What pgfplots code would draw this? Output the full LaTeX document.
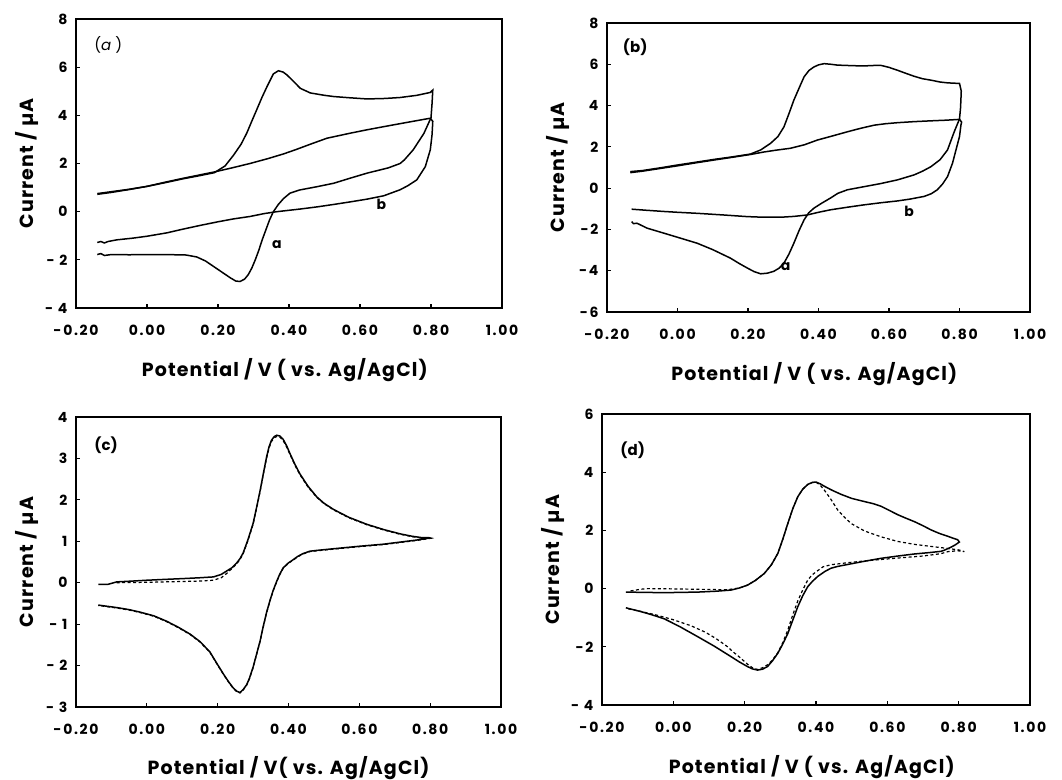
\documentclass[border=0pt]{standalone}
\usepackage{fontspec}
\setmainfont{Poppins}
\newfontfamily\widefont{Poppins}[LetterSpace=12]
\newfontfamily\labfont{Poppins}[LetterSpace=6]
\usepackage{pgfplots}
\pgfplotsset{compat=1.18}
\pgfplotsset{
  cv/.style={
    scale only axis, width=426pt, height=289pt,
    xmin=-0.2, xmax=1.0,
    xtick={-0.2,0,0.2,0.4,0.6,0.8,1.0},
    xticklabels={-0.20,0.00,0.20,0.40,0.60,0.80,1.00},
    tick align=inside, tick pos=left, major tick length=4pt,
    axis line style={line width=1.7pt}, tick style={line width=1.2pt, black},
    /pgf/number format/assume math mode=true,
    tick label style={font=\widefont\bfseries\fontsize{14}{14}\selectfont},
    xticklabel style={yshift=-14pt},
    yticklabel style={xshift=-5pt},
    label style={font=\labfont\bfseries\fontsize{19}{19}\selectfont},
    xlabel={Potential / V ( vs. Ag/AgCl)},
    ylabel={Current / µA},
    xlabel style={at={(axis description cs:0.49,-0.215)}, anchor=center},
    ylabel style={at={(axis description cs:-0.115,0.5)}, anchor=center},
    cycle list={{black}},
    every axis plot/.append style={black, line width=1.5pt, no markers},
  },
  sol/.style={solid},
  dsh/.style={dash pattern=on 3pt off 2.5pt, line width=1.2pt},
}
\begin{document}
\begin{tikzpicture}
\useasboundingbox (0,0) rectangle (1062pt,779pt);
% ---------------- (a)
\begin{axis}[cv, at={(76pt,471pt)}, anchor=south west,
  ymin=-4, ymax=8, ytick={-4,-2,0,2,4,6,8}, yticklabels={- 4,- 2,0,2,4,6,8}]
\addplot coordinates {(-0.14,0.75) (-0.10,0.83) (-0.05,0.93) (0.00,1.05) (0.05,1.2) (0.10,1.36) (0.15,1.5) (0.19,1.62) (0.22,1.9) (0.244,2.35) (0.265,2.8) (0.281,3.26) (0.295,3.75) (0.309,4.23) (0.324,4.75) (0.338,5.19) (0.356,5.72) (0.37,5.85) (0.383,5.8) (0.394,5.68) (0.41,5.45) (0.432,5.12) (0.46,4.93) (0.50,4.83) (0.526,4.78) (0.57,4.73) (0.62,4.68) (0.67,4.7) (0.713,4.74) (0.76,4.83) (0.798,4.95) (0.805,5.05)
(0.803,4.5) (0.80,3.9) (0.78,3.25) (0.75,2.57) (0.725,2.15) (0.713,2.0) (0.68,1.82) (0.62,1.6) (0.57,1.38) (0.526,1.18) (0.48,1.04) (0.43,0.9) (0.403,0.77) (0.385,0.55) (0.37,0.3) (0.356,0.0) (0.345,-0.35) (0.335,-0.75) (0.325,-1.15) (0.315,-1.6) (0.305,-2.0) (0.295,-2.35) (0.285,-2.62) (0.275,-2.8) (0.262,-2.9) (0.25,-2.88) (0.235,-2.75) (0.215,-2.55) (0.19,-2.3) (0.165,-2.05) (0.14,-1.88) (0.11,-1.8) (0.05,-1.78) (0.0,-1.78) (-0.05,-1.79) (-0.10,-1.78) (-0.12,-1.82) (-0.13,-1.74) (-0.14,-1.78)};
\addplot coordinates {(-0.14,0.72) (-0.10,0.8) (-0.05,0.92) (0,1.05) (0.05,1.22) (0.10,1.38) (0.15,1.53) (0.19,1.65) (0.24,1.82) (0.29,2.0) (0.34,2.2) (0.385,2.4) (0.42,2.58) (0.46,2.8) (0.507,3.05) (0.573,3.26) (0.62,3.4) (0.667,3.53) (0.73,3.7) (0.798,3.88)
(0.805,3.75) (0.803,3.2) (0.798,2.57) (0.784,1.87) (0.76,1.32) (0.735,1.08) (0.713,0.91) (0.667,0.66) (0.62,0.52) (0.57,0.4) (0.526,0.3) (0.48,0.2) (0.432,0.11) (0.366,0.0) (0.33,-0.08) (0.29,-0.2) (0.244,-0.3) (0.2,-0.42) (0.15,-0.57) (0.10,-0.73) (0.056,-0.88) (0.0,-1.02) (-0.04,-1.1) (-0.085,-1.17) (-0.11,-1.24) (-0.12,-1.3) (-0.13,-1.24) (-0.14,-1.28)};
\node[font=\fontsize{15}{15}\selectfont] at (axis cs:-0.109,6.92) {(\textit{a} )};
\node[font=\bfseries\fontsize{14}{14}\selectfont] at (axis cs:0.366,-1.37) {a};
\node[font=\bfseries\fontsize{14}{14}\selectfont] at (axis cs:0.66,0.3) {b};
\end{axis}
% ---------------- (b)
\begin{axis}[cv, at={(607pt,467pt)}, anchor=south west, width=423pt,
  ymin=-6, ymax=8, ytick={-6,-4,-2,0,2,4,6,8}, yticklabels={-6,-4,-2,0,2,4,6,8}]
\addplot coordinates {(-0.134,0.8) (-0.1,0.85) (-0.05,0.98) (0,1.12) (0.05,1.25) (0.103,1.39) (0.15,1.5) (0.207,1.65) (0.236,1.85) (0.264,2.17) (0.285,2.5) (0.302,2.97) (0.316,3.6) (0.33,4.26) (0.345,4.85) (0.359,5.39) (0.373,5.7) (0.387,5.87) (0.40,5.97) (0.416,6.03) (0.435,6.0) (0.453,5.96) (0.5,5.93) (0.529,5.92) (0.555,5.94) (0.576,5.95) (0.6,5.85) (0.624,5.71) (0.648,5.56) (0.671,5.42) (0.695,5.3) (0.719,5.23) (0.745,5.14) (0.766,5.1) (0.8,5.07)
(0.805,4.7) (0.803,3.9) (0.8,3.35) (0.785,2.73) (0.766,1.85) (0.745,1.38) (0.719,1.04) (0.695,0.82) (0.671,0.64) (0.624,0.4) (0.576,0.22) (0.529,0.07) (0.482,-0.08) (0.455,-0.25) (0.434,-0.48) (0.41,-0.72) (0.387,-0.97) (0.372,-1.2) (0.359,-1.54) (0.345,-2.05) (0.33,-2.67) (0.316,-3.2) (0.302,-3.63) (0.288,-3.88) (0.273,-4.03) (0.255,-4.12) (0.236,-4.15) (0.218,-4.05) (0.198,-3.87) (0.175,-3.65) (0.15,-3.39) (0.1,-2.98) (0.056,-2.67) (0.0,-2.38) (-0.039,-2.18) (-0.086,-1.94) (-0.115,-1.7) (-0.125,-1.72) (-0.13,-1.62)};
\addplot coordinates {(-0.134,0.75) (-0.1,0.82) (-0.05,0.95) (0,1.08) (0.05,1.22) (0.103,1.36) (0.15,1.48) (0.207,1.63) (0.245,1.75) (0.28,1.84) (0.32,1.93) (0.36,2.1) (0.397,2.33) (0.44,2.53) (0.482,2.73) (0.52,2.9) (0.558,3.05) (0.59,3.12) (0.624,3.17) (0.67,3.22) (0.719,3.26) (0.76,3.29) (0.8,3.33)
(0.806,3.2) (0.804,3.05) (0.8,2.5) (0.79,1.85) (0.78,1.2) (0.766,0.56) (0.752,0.2) (0.737,-0.08) (0.72,-0.27) (0.7,-0.4) (0.66,-0.53) (0.624,-0.62) (0.576,-0.71) (0.529,-0.81) (0.48,-0.93) (0.434,-1.05) (0.4,-1.17) (0.368,-1.3) (0.33,-1.37) (0.292,-1.41) (0.245,-1.41) (0.198,-1.38) (0.13,-1.3) (0.056,-1.22) (0.0,-1.17) (-0.039,-1.13) (-0.09,-1.07) (-0.13,-1.02)};
\node[font=\bfseries\fontsize{15}{15}\selectfont] at (axis cs:-0.12,6.84) {(b)};
\node[font=\bfseries\fontsize{14}{14}\selectfont] at (axis cs:0.307,-3.79) {a};
\node[font=\bfseries\fontsize{14}{14}\selectfont] at (axis cs:0.657,-1.13) {b};
\end{axis}
% ---------------- (c)
\begin{axis}[cv, at={(76pt,72pt)}, anchor=south west, width=425pt, height=290pt,
  ymin=-3, ymax=4, ytick={-3,-2,-1,0,1,2,3,4}, yticklabels={- 3,- 2,- 1,0,1,2,3,4},
  xlabel={Potential / V( vs. Ag/AgCl)}, xlabel style={at={(axis description cs:0.5,-0.21)}}]
\addplot[dsh] coordinates {(-0.085,0.0) (0,0.01) (0.05,0.02) (0.103,0.03) (0.15,0.04) (0.188,0.06) (0.21,0.12) (0.225,0.22) (0.24,0.34) (0.254,0.46) (0.263,0.56) (0.272,0.7) (0.286,1.03) (0.30,1.41) (0.31,1.8) (0.32,2.21) (0.33,2.66) (0.338,3.0) (0.345,3.25) (0.352,3.41) (0.36,3.5) (0.367,3.53) (0.376,3.51) (0.385,3.43) (0.395,3.27) (0.404,3.1) (0.418,2.84) (0.432,2.61) (0.455,2.31) (0.48,2.06) (0.5,1.91) (0.527,1.76) (0.57,1.57) (0.621,1.4) (0.67,1.27) (0.715,1.17) (0.75,1.11) (0.775,1.08) (0.795,1.08) (0.80,1.07)
(0.785,1.05) (0.762,1.02) (0.715,0.97) (0.668,0.92) (0.6,0.87) (0.527,0.81) (0.48,0.77) (0.46,0.75) (0.44,0.69) (0.425,0.62) (0.414,0.55) (0.4,0.47) (0.385,0.35) (0.375,0.19) (0.367,0.03) (0.357,-0.19) (0.348,-0.43) (0.338,-0.73) (0.328,-1.09) (0.32,-1.41) (0.31,-1.73) (0.30,-2.05) (0.29,-2.31) (0.282,-2.47) (0.272,-2.59) (0.263,-2.66) (0.254,-2.63) (0.244,-2.55) (0.23,-2.39) (0.216,-2.21) (0.2,-1.99) (0.178,-1.68) (0.15,-1.43) (0.122,-1.25) (0.09,-1.09) (0.056,-0.94) (0.02,-0.81) (-0.019,-0.72) (-0.05,-0.66) (-0.085,-0.61) (-0.137,-0.55)};
\addplot[sol] coordinates {(-0.137,-0.04) (-0.11,-0.04) (-0.085,0.02) (-0.04,0.04) (0,0.06) (0.05,0.08) (0.103,0.1) (0.15,0.12) (0.188,0.14) (0.21,0.2) (0.225,0.28) (0.24,0.36) (0.254,0.48) (0.263,0.58) (0.272,0.72) (0.286,1.05) (0.30,1.43) (0.31,1.82) (0.32,2.23) (0.33,2.68) (0.338,3.03) (0.345,3.28) (0.352,3.44) (0.36,3.53) (0.367,3.56) (0.376,3.54) (0.385,3.46) (0.395,3.3) (0.404,3.12) (0.418,2.86) (0.432,2.63) (0.455,2.33) (0.48,2.07) (0.5,1.92) (0.527,1.77) (0.57,1.58) (0.621,1.41) (0.67,1.28) (0.715,1.18) (0.75,1.12) (0.775,1.09) (0.795,1.09) (0.80,1.08)
(0.785,1.06) (0.762,1.03) (0.715,0.98) (0.668,0.93) (0.6,0.88) (0.527,0.82) (0.48,0.78) (0.46,0.76) (0.44,0.7) (0.425,0.63) (0.414,0.56) (0.4,0.48) (0.385,0.36) (0.375,0.2) (0.367,0.04) (0.357,-0.18) (0.348,-0.42) (0.338,-0.72) (0.328,-1.08) (0.32,-1.4) (0.31,-1.72) (0.30,-2.04) (0.29,-2.3) (0.282,-2.46) (0.272,-2.58) (0.263,-2.65) (0.254,-2.62) (0.244,-2.54) (0.23,-2.38) (0.216,-2.2) (0.2,-1.98) (0.178,-1.67) (0.15,-1.42) (0.122,-1.24) (0.09,-1.08) (0.056,-0.93) (0.02,-0.8) (-0.019,-0.71) (-0.05,-0.65) (-0.085,-0.6) (-0.137,-0.54)};
\node[font=\bfseries\fontsize{15}{15}\selectfont] at (axis cs:-0.115,3.32) {(c)};
\end{axis}
% ---------------- (d)
\begin{axis}[cv, at={(602pt,74pt)}, anchor=south west, width=428pt, height=291pt,
  ymin=-4, ymax=6, ytick={-4,-2,0,2,4,6}, yticklabels={- 4,-2,0,2,4,6}]
\addplot[dsh] coordinates {(-0.12,-0.08) (-0.09,-0.02) (-0.072,0.0) (0.0,-0.01) (0.05,-0.02) (0.1,-0.03) (0.15,-0.04) (0.185,0.02) (0.208,0.12) (0.23,0.28) (0.255,0.52) (0.275,0.82) (0.293,1.21) (0.307,1.7) (0.321,2.24) (0.335,2.75) (0.349,3.16) (0.363,3.42) (0.377,3.58) (0.39,3.65) (0.40,3.66) (0.412,3.55) (0.423,3.39) (0.44,3.1) (0.461,2.7) (0.48,2.45) (0.498,2.24) (0.536,1.98) (0.582,1.78) (0.629,1.62) (0.676,1.52) (0.722,1.45) (0.769,1.38) (0.8,1.33) (0.816,1.27)
(0.797,1.3) (0.77,1.27) (0.75,1.2) (0.7,1.12) (0.629,1.05) (0.582,1.0) (0.536,0.95) (0.489,0.89) (0.442,0.82) (0.42,0.75) (0.405,0.62) (0.39,0.48) (0.377,0.3) (0.363,-0.04) (0.349,-0.42) (0.335,-0.9) (0.321,-1.42) (0.307,-1.85) (0.293,-2.2) (0.278,-2.45) (0.264,-2.62) (0.25,-2.72) (0.236,-2.78) (0.222,-2.72) (0.208,-2.6) (0.19,-2.4) (0.17,-2.2) (0.15,-1.98) (0.12,-1.72) (0.09,-1.5) (0.05,-1.28) (0.0,-1.07) (-0.05,-0.9) (-0.1,-0.76) (-0.133,-0.68)};
\addplot[sol] coordinates {(-0.133,-0.12) (-0.08,-0.13) (-0.025,-0.14) (0.02,-0.13) (0.068,-0.12) (0.12,-0.09) (0.162,-0.05) (0.185,0.02) (0.208,0.12) (0.23,0.28) (0.255,0.52) (0.275,0.82) (0.293,1.21) (0.307,1.7) (0.321,2.24) (0.335,2.75) (0.349,3.16) (0.363,3.42) (0.377,3.58) (0.39,3.65) (0.40,3.66) (0.412,3.6) (0.423,3.52) (0.445,3.38) (0.47,3.24) (0.5,3.1) (0.536,2.99) (0.56,2.92) (0.582,2.83) (0.605,2.69) (0.629,2.54) (0.652,2.42) (0.676,2.3) (0.7,2.16) (0.722,2.02) (0.745,1.9) (0.769,1.8) (0.787,1.72) (0.797,1.68) (0.802,1.6)
(0.79,1.5) (0.778,1.42) (0.76,1.32) (0.75,1.28) (0.72,1.24) (0.676,1.19) (0.63,1.12) (0.582,1.04) (0.536,0.94) (0.489,0.83) (0.46,0.76) (0.442,0.7) (0.425,0.59) (0.405,0.42) (0.39,0.25) (0.377,0.07) (0.363,-0.24) (0.349,-0.62) (0.335,-1.08) (0.321,-1.54) (0.307,-1.9) (0.293,-2.22) (0.278,-2.48) (0.264,-2.68) (0.25,-2.77) (0.236,-2.8) (0.222,-2.76) (0.208,-2.68) (0.185,-2.52) (0.162,-2.34) (0.115,-1.98) (0.068,-1.65) (0.02,-1.32) (-0.025,-1.04) (-0.06,-0.9) (-0.091,-0.79) (-0.133,-0.66)};
\node[font=\bfseries\fontsize{15}{15}\selectfont] at (axis cs:-0.114,4.76) {(d)};
\end{axis}
\end{tikzpicture}
\end{document}
